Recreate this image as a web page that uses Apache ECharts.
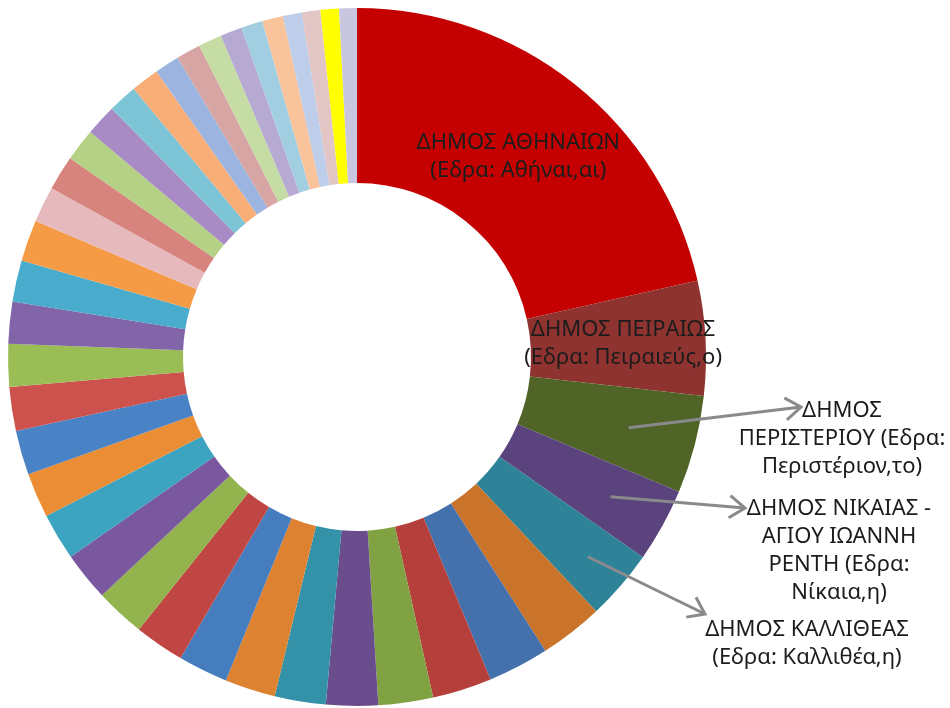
<!DOCTYPE html>
<html>
<head>
<meta charset="utf-8">
<script src="https://cdn.jsdelivr.net/npm/echarts@6/dist/echarts.min.js"></script>
<style>
  html, body { margin: 0; padding: 0; background: #ffffff; }
  #chart { width: 950px; height: 708px; }
</style>
</head>
<body>
<div id="chart"></div>
<script>
// Municipalities of the Athens basin, ordered by population (census 2011)
const municipalities = [
  'ΔΗΜΟΣ ΑΘΗΝΑΙΩΝ (Εδρα: Αθήναι,αι)',
  'ΔΗΜΟΣ ΠΕΙΡΑΙΩΣ (Εδρα: Πειραιεύς,ο)',
  'ΔΗΜΟΣ ΠΕΡΙΣΤΕΡΙΟΥ (Εδρα: Περιστέριον,το)',
  'ΔΗΜΟΣ ΝΙΚΑΙΑΣ - ΑΓΙΟΥ ΙΩΑΝΝΗ ΡΕΝΤΗ (Εδρα: Νίκαια,η)',
  'ΔΗΜΟΣ ΚΑΛΛΙΘΕΑΣ (Εδρα: Καλλιθέα,η)',
  'ΔΗΜΟΣ ΚΕΡΑΤΣΙΝΙΟΥ - ΔΡΑΠΕΤΣΩΝΑΣ (Εδρα: Κερατσίνιον,το)',
  'ΔΗΜΟΣ ΓΛΥΦΑΔΑΣ (Εδρα: Γλυφάδα,η)',
  'ΔΗΜΟΣ ΙΛΙΟΥ (Εδρα: Ίλιον,το)',
  'ΔΗΜΟΣ ΗΛΙΟΥΠΟΛΕΩΣ (Εδρα: Ηλιούπολις,η)',
  'ΔΗΜΟΣ ΧΑΛΑΝΔΡΙΟΥ (Εδρα: Χαλάνδριον,το)',
  'ΔΗΜΟΣ ΝΕΑΣ ΣΜΥΡΝΗΣ (Εδρα: Νέα Σμύρνη,η)',
  'ΔΗΜΟΣ ΑΜΑΡΟΥΣΙΟΥ (Εδρα: Αμαρούσιον,το)',
  'ΔΗΜΟΣ ΑΓΙΟΥ ΔΗΜΗΤΡΙΟΥ (Εδρα: Άγιος Δημήτριος,ο)',
  'ΔΗΜΟΣ ΚΗΦΙΣΙΑΣ (Εδρα: Κηφισιά,η)',
  'ΔΗΜΟΣ ΖΩΓΡΑΦΟΥ (Εδρα: Ζωγράφος,ο)',
  'ΔΗΜΟΣ ΑΙΓΑΛΕΩ (Εδρα: Αιγάλεω,το)',
  'ΔΗΜΟΣ ΝΕΑΣ ΙΩΝΙΑΣ (Εδρα: Νέα Ιωνία,η)',
  'ΔΗΜΟΣ ΠΑΛΑΙΟΥ ΦΑΛΗΡΟΥ (Εδρα: Παλαιόν Φάληρον,το)',
  'ΔΗΜΟΣ ΚΟΡΥΔΑΛΛΟΥ (Εδρα: Κορυδαλλός,ο)',
  'ΔΗΜΟΣ ΑΓΙΩΝ ΑΝΑΡΓΥΡΩΝ - ΚΑΜΑΤΕΡΟΥ (Εδρα: Άγιοι Ανάργυροι,οι)',
  'ΔΗΜΟΣ ΒΥΡΩΝΟΣ (Εδρα: Βύρων,ο)',
  'ΔΗΜΟΣ ΑΓΙΑΣ ΠΑΡΑΣΚΕΥΗΣ (Εδρα: Αγία Παρασκευή,η)',
  'ΔΗΜΟΣ ΓΑΛΑΤΣΙΟΥ (Εδρα: Γαλάτσιον,το)',
  'ΔΗΜΟΣ ΠΕΤΡΟΥΠΟΛΕΩΣ (Εδρα: Πετρούπολις,η)',
  'ΔΗΜΟΣ ΕΛΛΗΝΙΚΟΥ - ΑΡΓΥΡΟΥΠΟΛΗΣ (Εδρα: Αργυρούπολις,η)',
  'ΔΗΜΟΣ ΗΡΑΚΛΕΙΟΥ (Εδρα: Ηράκλειον,το)',
  'ΔΗΜΟΣ ΧΑΪΔΑΡΙΟΥ (Εδρα: Χαϊδάριον,το)',
  'ΔΗΜΟΣ ΠΑΠΑΓΟΥ - ΧΟΛΑΡΓΟΥ (Εδρα: Χολαργός,ο)',
  'ΔΗΜΟΣ ΑΛΙΜΟΥ (Εδρα: Άλιμος,ο)',
  'ΔΗΜΟΣ ΜΟΣΧΑΤΟΥ - ΤΑΥΡΟΥ (Εδρα: Μοσχάτον,το)',
  'ΔΗΜΟΣ ΦΙΛΑΔΕΛΦΕΙΑΣ - ΧΑΛΚΗΔΟΝΟΣ (Εδρα: Νέα Φιλαδέλφεια,η)',
  'ΔΗΜΟΣ ΠΕΝΤΕΛΗΣ (Εδρα: Μελίσσια,τα)',
  'ΔΗΜΟΣ ΔΑΦΝΗΣ - ΥΜΗΤΤΟΥ (Εδρα: Δάφνη,η)',
  'ΔΗΜΟΣ ΛΥΚΟΒΡΥΣΗΣ - ΠΕΥΚΗΣ (Εδρα: Πεύκη,η)',
  'ΔΗΜΟΣ ΒΡΙΛΗΣΣΙΩΝ (Εδρα: Βριλήσσια,τα)',
  'ΔΗΜΟΣ ΜΕΤΑΜΟΡΦΩΣΕΩΣ (Εδρα: Μεταμόρφωσις,η)',
  'ΔΗΜΟΣ ΦΙΛΟΘΕΗΣ - ΨΥΧΙΚΟΥ (Εδρα: Ψυχικόν,το)',
  'ΔΗΜΟΣ ΑΓΙΑΣ ΒΑΡΒΑΡΑΣ (Εδρα: Αγία Βαρβάρα,η)',
  'ΔΗΜΟΣ ΚΑΙΣΑΡΙΑΝΗΣ (Εδρα: Καισαριανή,η)',
  'ΔΗΜΟΣ ΠΕΡΑΜΑΤΟΣ (Εδρα: Πέραμα,το)'
];

const population = [
  664046, 163688, 139981, 105430, 100641, 91045, 87305, 84793, 78153, 74192,
  73076, 72333, 71294, 71259, 71026, 69946, 67134, 64021, 63445, 62529,
  61308, 59704, 59345, 58979, 51356, 49642, 46897, 44539, 41720, 40413,
  35556, 34934, 33628, 31153, 30741, 29891, 26968, 26550, 26370, 25389
];

const sliceColors = [
  '#C40000', '#8F3330', '#4F6426', '#5B437D', '#2E8399', '#C9732B',
  '#4470AC', '#B5403B', '#80A242', '#6A4D8D', '#3392A7', '#DD8230',
  '#467DBE', '#BF4642', '#92B34D', '#7A58A0', '#3CA4C0', '#EA8D34',
  '#4A82C6', '#CD514C', '#9BBD56', '#8264A8', '#49ACCD', '#F59B46',
  '#E6BABD', '#D7837E', '#B5D185', '#A88AC4', '#7EC4D7', '#F9AE78',
  '#9CB5E0', '#D8A5A5', '#C5DCA5', '#B6A9D2', '#A2CEE2', '#F9C39C',
  '#BDCDEA', '#E2C6C6', '#FFFF00', '#C9C6E0'
];

// Wrapped label text for the labelled slices
const labelTexts = {
  0: 'ΔΗΜΟΣ ΑΘΗΝΑΙΩΝ\n(Εδρα: Αθήναι,αι)',
  1: 'ΔΗΜΟΣ ΠΕΙΡΑΙΩΣ\n(Εδρα: Πειραιεύς,ο)',
  2: 'ΔΗΜΟΣ\nΠΕΡΙΣΤΕΡΙΟΥ (Εδρα:\nΠεριστέριον,το)',
  3: 'ΔΗΜΟΣ ΝΙΚΑΙΑΣ -\nΑΓΙΟΥ ΙΩΑΝΝΗ\nΡΕΝΤΗ (Εδρα:\nΝίκαια,η)',
  4: 'ΔΗΜΟΣ ΚΑΛΛΙΘΕΑΣ\n(Εδρα: Καλλιθέα,η)'
};

// Small nudges for the labels drawn inside their slices
const insideOffsets = { 0: [-4, 6], 1: [2, 1] };

// Callout placement: label block centre, arrow tip, arrow start (fraction across the ring)
const callouts = {
  2: { label: [842, 439], tip: [801, 407], start: 0.61 },
  3: { label: [839, 551], tip: [745, 508], start: 0.66 },
  4: { label: [807, 644], tip: [705, 614], start: 0.75 }
};

const CENTER = [357, 357];
const RADII = [174, 349];
const FONT = { fontFamily: 'Noto Sans', fontWeight: 400, fontSize: 22, lineHeight: 28, color: '#1c1c1c' };

const chart = echarts.init(document.getElementById('chart'), null, { renderer: 'canvas' });

const seriesData = population.map((v, i) => {
  const item = { name: municipalities[i], value: v, itemStyle: { color: sliceColors[i] } };
  if (labelTexts[i] !== undefined) {
    item.label = Object.assign({
      show: true,
      position: callouts[i] ? 'outside' : 'inside',
      formatter: labelTexts[i],
      align: 'center',
      offset: insideOffsets[i] || [0, 0]
    }, FONT);
    item.labelLine = { show: false };
  } else {
    item.label = { show: false };
    item.labelLine = { show: false };
  }
  return item;
});

// Arrow from inside a slice to its callout text
function arrowGraphics(index) {
  const total = population.reduce((a, b) => a + b, 0);
  let before = 0;
  for (let i = 0; i < index; i++) before += population[i];
  const mid = (before + population[index] / 2) / total * Math.PI * 2;
  const c = callouts[index];
  const r = RADII[0] + (RADII[1] - RADII[0]) * c.start;
  const sx = CENTER[0] + r * Math.sin(mid);
  const sy = CENTER[1] - r * Math.cos(mid);
  const [tx, ty] = c.tip;
  const ang = Math.atan2(ty - sy, tx - sx);
  const len = 19, spread = 0.62;
  const a1 = [tx - len * Math.cos(ang - spread), ty - len * Math.sin(ang - spread)];
  const a2 = [tx - len * Math.cos(ang + spread), ty - len * Math.sin(ang + spread)];
  const style = { stroke: '#8A8A8A', lineWidth: 3, fill: null, lineJoin: 'miter' };
  return [
    { type: 'polyline', z: 100, zlevel: 1, shape: { points: [[sx, sy], [tx, ty]] }, style },
    { type: 'polyline', z: 100, zlevel: 1, shape: { points: [a1, [tx, ty], a2] }, style }
  ];
}

chart.setOption({
  backgroundColor: '#ffffff',
  animation: false,
  series: [{
    type: 'pie',
    center: CENTER,
    radius: RADII,
    startAngle: 90,
    clockwise: true,
    avoidLabelOverlap: false,
    itemStyle: { borderWidth: 0 },
    emphasis: { disabled: true },
    labelLayout: function (params) {
      const c = callouts[params.dataIndex];
      if (!c) return {};
      return { x: c.label[0], y: c.label[1], align: 'center', verticalAlign: 'middle' };
    },
    data: seriesData
  }],
  graphic: Object.keys(callouts).reduce((acc, k) => acc.concat(arrowGraphics(Number(k))), [])
});
</script>
</body>
</html>
